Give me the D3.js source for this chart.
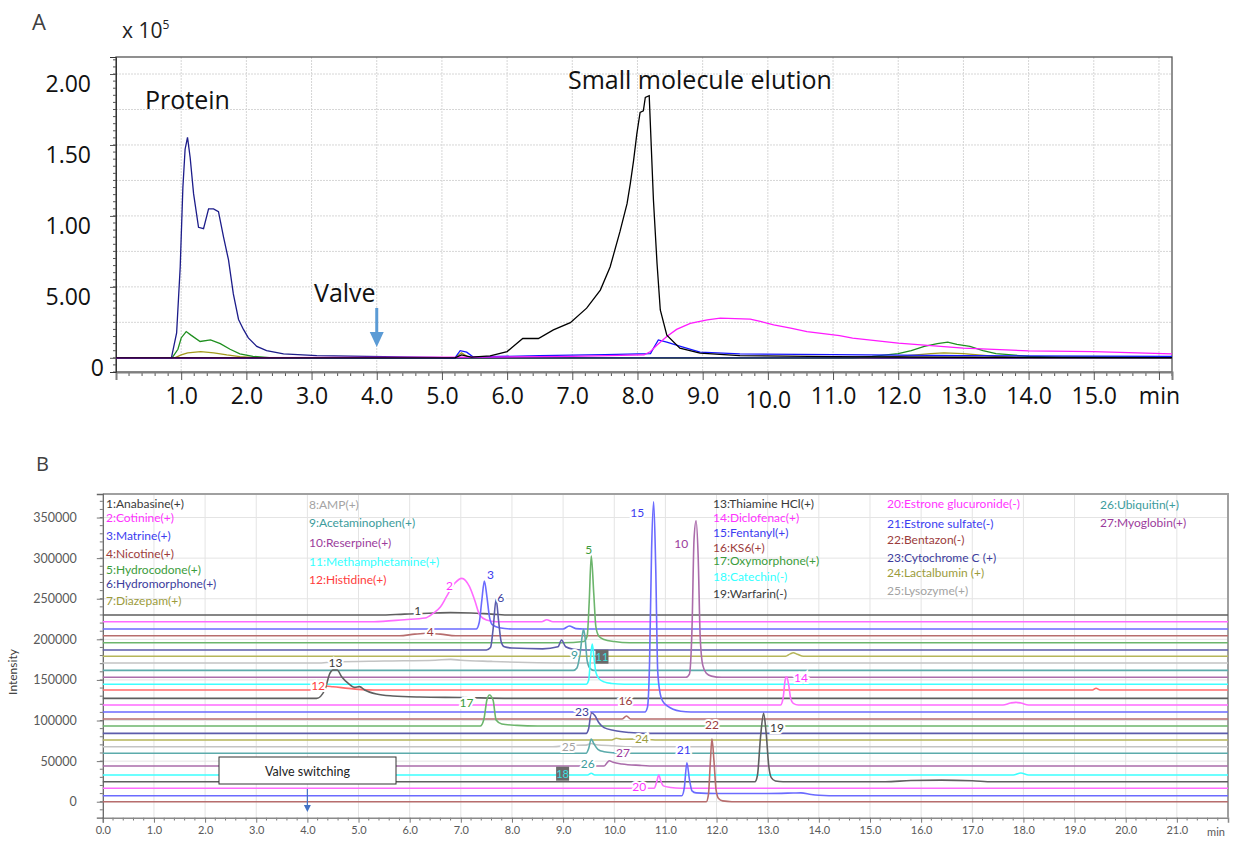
<!DOCTYPE html>
<html>
<head>
<meta charset="utf-8">
<script src="https://cdn.jsdelivr.net/npm/d3@7"></script>
<style>
  body { margin: 0; background: #fff; }
  text { font-family: "Open Sans", sans-serif; }
  .pb text { font-family: Lato, "Open Sans", sans-serif; }
</style>
</head>
<body>
<div id="chart"></div>
<script>
// ---------- Panel A data (time in min, intensity x 10^5) ----------
const aProtein = [[0,0],[0.85,0],[0.93,0.175],[0.985,0.64],[1.026,1.2],[1.06,1.47],[1.097,1.554],[1.138,1.41],[1.19,1.157],[1.266,0.92],[1.343,0.91],[1.42,1.05],[1.496,1.05],[1.572,1.03],[1.65,0.85],[1.726,0.69],[1.8,0.45],[1.88,0.27],[1.955,0.2],[2.03,0.14],[2.16,0.08],[2.31,0.05],[2.57,0.028],[3.08,0.015],[3.85,0.01],[4.87,0.003],[5.2,0],[16.2,0]];
const aGreen = [[0,0],[0.86,0],[0.95,0.06],[1.0,0.14],[1.077,0.185],[1.15,0.16],[1.29,0.115],[1.45,0.126],[1.6,0.1],[1.75,0.06],[1.9,0.028],[2.1,0.01],[2.4,0],[11.3,0],[11.6,0.01],[12.0,0.03],[12.2,0.05],[12.4,0.08],[12.6,0.1],[12.76,0.11],[12.9,0.095],[13.1,0.08],[13.3,0.05],[13.5,0.03],[14.0,0.01],[14.5,0.005],[16.2,0.005]];
const aOlive = [[0,0],[0.9,0],[1.0,0.02],[1.1,0.035],[1.3,0.044],[1.5,0.035],[1.7,0.02],[1.9,0.008],[2.2,0],[5.2,0],[5.3,0.035],[5.42,0],[11.5,0],[12.0,0.01],[12.5,0.03],[12.7,0.035],[13.0,0.03],[13.5,0.01],[14.0,0],[16.2,0]];
const aSmall = [[0,0],[5.2,0],[5.3,0.02],[5.45,0.005],[5.74,0.014],[6.0,0.044],[6.12,0.09],[6.24,0.136],[6.48,0.136],[6.71,0.197],[6.97,0.248],[7.22,0.35],[7.43,0.477],[7.58,0.64],[7.73,0.887],[7.84,1.086],[7.89,1.227],[7.94,1.39],[7.99,1.578],[8.04,1.73],[8.09,1.74],[8.12,1.835],[8.18,1.847],[8.2,1.62],[8.245,1.11],[8.3,0.665],[8.35,0.337],[8.45,0.16],[8.65,0.068],[8.96,0.033],[9.57,0.016],[11,0.008],[13,0.004],[16.2,0.002]];
const aMagenta = [[0,0],[5.5,0.005],[7.0,0.01],[8.1,0.02],[8.2,0.044],[8.3,0.09],[8.45,0.15],[8.6,0.2],[8.81,0.243],[9.07,0.267],[9.27,0.279],[9.5,0.276],[9.73,0.272],[9.9,0.255],[10.09,0.232],[10.35,0.21],[10.6,0.185],[11.1,0.157],[11.3,0.138],[12.0,0.103],[13.0,0.068],[14.0,0.049],[15.0,0.044],[16.2,0.028]];
const aBlue = [[0,0],[5.2,0],[5.28,0.05],[5.38,0.04],[5.48,0.005],[5.7,0.008],[6.5,0.015],[7.5,0.022],[8.2,0.03],[8.26,0.08],[8.32,0.126],[8.45,0.11],[8.66,0.08],[8.96,0.04],[9.57,0.028],[11,0.022],[13,0.015],[16.2,0.01]];
const aFlat = [[0,0],[16.2,0]];
const aTicksY = [0, 0.5, 1, 1.5, 2];
const aTickText = ["0", "5.00", "1.00", "1.50", "2.00"];

// ---------- Panel B data (time in min, intensity above trace offset) ----------
const compounds = ["Anabasine(+)","Cotinine(+)","Matrine(+)","Nicotine(+)","Hydrocodone(+)","Hydromorphone(+)","Diazepam(+)","AMP(+)","Acetaminophen(+)","Reserpine(+)","Methamphetamine(+)","Histidine(+)","Thiamine HCl(+)","Diclofenac(+)","Fentanyl(+)","KS6(+)","Oxymorphone(+)","Catechin(-)","Warfarin(-)","Estrone glucuronide(-)","Estrone sulfate(-)","Bentazon(-)","Cytochrome C (+)","Lactalbumin (+)","Lysozyme(+)","Ubiquitin(+)","Myoglobin(+)"];
const stackOrder = [1,2,3,4,5,6,7,8,9,10,11,12,13,14,15,16,17,23,24,25,26,27,18,19,20,21,22];
const stackOffset = [229900,221700,212700,204400,195800,186800,179100,170800,161800,153200,144600,137600,127300,119100,110500,101800,93200,84200,76000,67700,59600,44000,32900,24600,16500,7400,0];

const t01 = [[0,0],[5.4,0],[5.9,1200],[6.5,2500],[6.8,3000],[7.2,2500],[7.6,1200],[8.0,0],[22,0]];
const t02 = [[0,0],[5.3,0],[5.9,2500],[6.3,4500],[6.46,10300],[6.6,18000],[6.72,30800],[6.88,47300],[7.02,53400],[7.17,43100],[7.27,26700],[7.37,8200],[7.5,2000],[7.7,0],[8.58,0],[8.68,2500],[8.8,0],[22,0]];
const t03 = [[0,0],[7.3,0],[7.36,8000],[7.41,35000],[7.46,59100],[7.51,40000],[7.56,15000],[7.62,5000],[7.75,1500],[8.0,0],[9.0,0],[9.12,3700],[9.25,500],[9.4,0],[22,0]];
const t04 = [[0,0],[5.8,0],[6.1,2000],[6.35,3000],[6.6,2000],[6.9,0],[22,0]];
const t05 = [[0,0],[9.0,0],[9.4,1500],[9.47,8000],[9.51,50000],[9.55,107100],[9.6,60000],[9.64,20000],[9.7,8000],[9.8,4000],[10.0,1500],[10.3,0],[22,0]];
const t06 = [[0,0],[7.5,0],[7.58,3000],[7.63,25000],[7.69,62400],[7.74,35000],[7.79,10000],[7.85,4000],[8.0,2500],[8.6,1500],[8.9,4000],[8.97,12300],[9.05,4000],[9.2,1000],[9.4,0],[22,0]];
const t07 = [[0,0],[13.35,0],[13.44,3000],[13.5,4400],[13.58,2500],[13.7,0],[22,0]];
const t08 = [[0,0],[4.2,0],[4.5,1200],[5.5,2500],[6.5,3500],[6.8,4500],[7.0,3500],[7.6,2000],[8.3,600],[9.0,0],[22,0]];
const t09 = [[0,0],[9.2,0],[9.27,3000],[9.33,20000],[9.38,45000],[9.4,50500],[9.43,40000],[9.47,12000],[9.52,3000],[9.6,0],[22,0]];
const t10 = [[0,0],[11.4,0],[11.47,4000],[11.52,60000],[11.56,170000],[11.6,192900],[11.64,150000],[11.68,50000],[11.73,15000],[11.8,5000],[11.9,1500],[12.1,0],[22,0]];
const t11 = [[0,0],[9.45,0],[9.5,5000],[9.54,35000],[9.57,49600],[9.6,35000],[9.64,15000],[9.7,7000],[9.8,3000],[9.95,1000],[10.2,0],[22,0]];
const t12 = [[0,0],[4.15,0],[4.25,2500],[4.34,4900],[4.5,4000],[4.8,2000],[5.0,800],[5.3,0],[19.35,0],[19.42,2200],[19.5,0],[22,0]];
const t13 = [[0,0],[4.18,0],[4.34,10300],[4.44,30800],[4.5,34900],[4.58,34900],[4.67,26700],[4.8,18500],[4.93,13500],[5.02,14400],[5.12,10300],[5.35,5300],[5.67,2900],[6.2,1600],[7.0,1000],[8.0,0],[22,0]];
const t14 = [[0,0],[13.25,0],[13.3,8000],[13.34,30000],[13.37,34900],[13.41,25000],[13.45,8000],[13.5,2000],[13.6,0],[17.6,0],[17.75,2500],[17.85,3300],[17.95,2500],[18.1,0],[22,0]];
const t15 = [[0,0],[10.6,0],[10.65,6000],[10.69,60000],[10.73,200000],[10.77,259000],[10.81,180000],[10.85,50000],[10.9,22000],[10.95,13000],[11.05,7000],[11.15,3500],[11.3,1000],[11.5,0],[22,0]];
const t16 = [[0,0],[10.15,0],[10.24,3700],[10.32,0],[22,0]];
const t17 = [[0,0],[7.38,0],[7.45,8000],[7.51,32000],[7.56,38200],[7.63,32000],[7.69,7400],[7.8,2500],[8.1,800],[8.5,0],[22,0]];
const t18 = [[0,0],[9.48,0],[9.55,2100],[9.62,0],[17.8,0],[17.95,2400],[18.1,0],[22,0]];
const t19 = [[0,0],[12.75,0],[12.8,8000],[12.86,55000],[12.92,84200],[12.97,60000],[13.02,20000],[13.07,5000],[13.15,1000],[13.3,0],[15.3,0],[15.8,1500],[16.4,2000],[17.0,1200],[17.4,0],[22,0]];
const t20 = [[0,0],[10.78,0],[10.83,8000],[10.87,16400],[10.91,9000],[10.96,3000],[11.1,1000],[11.3,0],[22,0]];
const t21 = [[0,0],[11.32,0],[11.37,10000],[11.42,40600],[11.47,20000],[11.52,6000],[11.6,3500],[12.0,2800],[13.0,2800],[13.5,3300],[13.65,3500],[13.85,1500],[14.0,500],[14.2,0],[22,0]];
const t22 = [[0,0],[11.8,0],[11.84,8000],[11.88,50000],[11.91,77600],[11.95,50000],[11.99,15000],[12.04,4000],[12.12,1000],[12.3,0],[22,0]];
const t23 = [[0,0],[9.45,0],[9.5,6000],[9.55,25400],[9.62,22000],[9.7,13000],[9.8,7000],[10.0,3500],[10.3,1000],[10.6,0],[22,0]];
const t24 = [[0,0],[9.95,0],[10.04,2200],[10.15,1000],[10.5,1200],[10.8,0],[22,0]];
const t25 = [[0,0],[8.8,0],[9.1,1500],[9.45,2000],[9.55,4000],[9.65,2500],[10.0,1200],[10.3,0],[22,0]];
const t26 = [[0,0],[9.45,0],[9.5,6000],[9.55,17600],[9.6,12000],[9.68,5000],[9.8,2000],[10.0,500],[10.2,0],[22,0]];
const t27 = [[0,0],[9.8,0],[9.86,4000],[9.9,6500],[9.98,4500],[10.15,2500],[10.5,800],[10.8,0],[22,0]];
const tracesB = [t01,t02,t03,t04,t05,t06,t07,t08,t09,t10,t11,t12,t13,t14,t15,t16,t17,t18,t19,t20,t21,t22,t23,t24,t25,t26,t27];

// peak number labels: [id, time, intensity]
const peakLabels = [[1,6.16,235200],[2,6.78,266900],[3,7.58,280000],[6,7.78,251700],[4,6.4,209400],[5,9.5,310800],[15,10.45,355900],[10,11.31,318200],[9,9.22,180700],[14,13.65,153200],[16,10.22,124400],[17,7.11,121900],[23,9.37,110500],[22,11.91,95700],[19,13.18,91100],[24,10.54,78400],[25,9.11,67700],[27,10.17,60300],[26,9.48,47300],[21,11.36,64500],[20,10.49,19300],[13,4.55,171200],[12,4.21,143700]];
const boxedLabels = [[11,9.76,178600],[18,8.99,34500]];

// ---------- colours / layout ----------
const lineCol = {1:"#5f5f5f",2:"#ff6bff",3:"#6b6bff",4:"#b76d6d",5:"#6cb56c",6:"#5c5cab",7:"#b5b55a",8:"#c4c4c4",9:"#5cabab",10:"#ab6cab",11:"#3dffff",12:"#ff6b6b",13:"#5f5f5f",14:"#ff6bff",15:"#6b6bff",16:"#b76d6d",17:"#6cb56c",18:"#3dffff",19:"#5f5f5f",20:"#ff6bff",21:"#6b6bff",22:"#b76d6d",23:"#5c5cab",24:"#b5b55a",25:"#c4c4c4",26:"#5cabab",27:"#ab6cab"};
const textCol = {1:"#3a3a3a",2:"#ff33ff",3:"#3c3cf0",4:"#9c3c3c",5:"#3c9c3c",6:"#3c3c9c",7:"#9c9c3c",8:"#a3a3a3",9:"#3c9c9c",10:"#9c3c9c",11:"#33ffff",12:"#ff3c3c",13:"#3a3a3a",14:"#ff33ff",15:"#3c3cf0",16:"#9c3c3c",17:"#3c9c3c",18:"#33ffff",19:"#3a3a3a",20:"#ff33ff",21:"#3c3cf0",22:"#9c3c3c",23:"#3c3c9c",24:"#9c9c3c",25:"#a3a3a3",26:"#3c9c9c",27:"#9c3c9c"};
const legendPos = [[106,503],[106,517],[106,535],[106,553],[106,569],[106,583],[106,600],[309,504],[309,522],[309,542],[309,561],[309,579],[713,503],[713,517],[713,532],[713,547],[713,560],[713,576],[713,593],[887,503],[887,523],[887,539],[887,557],[887,572],[887,590],[1100,504],[1100,522]];

const svg = d3.select("#chart").append("svg")
    .attr("width", 1233)
    .attr("height", 841);

// ======================= Panel A =======================
const xA = d3.scaleLinear().domain([0, 16.2]).range([116, 1172]);
const yA = d3.scaleLinear().domain([-0.1, 2.12]).range([372, 57]);
const gA = svg.append("g");

gA.append("text").attr("x", 32).attr("y", 30).text("A")
    .style("font-size", "22px").style("fill", "#404040");
const exp = gA.append("text").attr("x", 122).attr("y", 38).style("font-size", "21px").style("fill", "#222");
exp.append("tspan").text("x 10");
exp.append("tspan").attr("dy", -9).style("font-size", "12px").text("5");

// grid
gA.append("g").selectAll("line").data(d3.range(1, 17)).join("line")
    .attr("x1", d => xA(d)).attr("x2", d => xA(d))
    .attr("y1", 57).attr("y2", 372)
    .style("stroke", "#d6d6d6").style("stroke-dasharray", "2,1");
gA.append("g").selectAll("line").data(d3.range(1, 9).map(i => i * 0.25)).join("line")
    .attr("x1", 116).attr("x2", 1172)
    .attr("y1", d => yA(d)).attr("y2", d => yA(d))
    .style("stroke", "#d6d6d6").style("stroke-dasharray", "2,1");

// frame
gA.append("rect").attr("x", 116).attr("y", 57).attr("width", 1172 - 116).attr("height", 372 - 57)
    .style("fill", "none").style("stroke", "#555").style("stroke-width", 1.3);

// x axis
const minorA = d3.range(1, 82).filter(i => i % 5 !== 0).map(i => i / 5);
gA.append("g").selectAll("line").data(minorA).join("line")
    .attr("x1", d => xA(d)).attr("x2", d => xA(d))
    .attr("y1", 372).attr("y2", 376).style("stroke", "#555");
const axA = gA.append("g").attr("transform", "translate(0,372)")
    .call(d3.axisBottom(xA).tickValues(d3.range(1, 17)).tickSize(8)
        .tickFormat(d => d === 16 ? "min" : d.toFixed(1)));
axA.select(".domain").style("stroke", "#7f7f7f").style("stroke-width", 2);
axA.selectAll(".tick line").style("stroke", "#555");
axA.selectAll(".tick text").style("font-size", "23px").style("fill", "#111")
    .attr("y", d => d === 10 ? 20 : 16);

// y axis
const minorYA = d3.range(-2, 43).map(i => i * 0.05);
gA.append("g").selectAll("line").data(minorYA).join("line")
    .attr("x1", 113).attr("x2", 116)
    .attr("y1", d => yA(d)).attr("y2", d => yA(d)).style("stroke", "#555");
const ayA = gA.append("g").attr("transform", "translate(116,0)")
    .call(d3.axisLeft(yA).tickValues(aTicksY).tickSize(6)
        .tickFormat((d, i) => aTickText[i]));
ayA.select(".domain").style("stroke", "#333");
ayA.selectAll(".tick line").style("stroke", "#555");
ayA.selectAll(".tick text").style("font-size", "23px").style("fill", "#111")
    .attr("x", d => d === 0 ? -12 : -25).attr("dy", "0.75em");

// traces
const lineA = d3.line().x(d => xA(d[0])).y(d => yA(d[1]));
const seriesA = [
    {data: aFlat, color: "#b03030"},
    {data: aFlat, color: "#4b0082"},
    {data: aOlive, color: "#a39a1e"},
    {data: aGreen, color: "#1f8f1f"},
    {data: aProtein, color: "#1c1c8a"},
    {data: aBlue, color: "#1414ff"},
    {data: aMagenta, color: "#ff1aff"},
    {data: aSmall, color: "#000"}
];
gA.append("g").selectAll("path").data(seriesA).join("path")
    .attr("d", d => lineA(d.data))
    .style("fill", "none").style("stroke", d => d.color).style("stroke-width", 1.3);

// annotations
gA.append("text").attr("x", 145).attr("y", 109).text("Protein").style("font-size", "25px").style("fill", "#111");
gA.append("text").attr("x", 568).attr("y", 89).text("Small molecule elution").style("font-size", "25px").style("fill", "#111");
gA.append("text").attr("x", 314).attr("y", 302).text("Valve").style("font-size", "25px").style("fill", "#111");
gA.append("line").attr("x1", xA(4)).attr("x2", xA(4)).attr("y1", 308).attr("y2", 333)
    .style("stroke", "#5b9bd5").style("stroke-width", 3);
gA.append("path").attr("d", `M${xA(4) - 7},332 L${xA(4) + 7},332 L${xA(4)},347 Z`).style("fill", "#5b9bd5");

// ======================= Panel B =======================
const xB = d3.scaleLinear().domain([0, 22]).range([102.8, 1228]);
const yB = d3.scaleLinear().domain([-19700, 379000]).range([817.7, 494]);
const gB = svg.append("g").attr("class", "pb");

gB.append("text").attr("x", 36).attr("y", 471).text("B")
    .style("font-size", "20px").style("fill", "#404040").style("font-family", "'Open Sans', sans-serif");

// grid
gB.append("g").selectAll("line").data(d3.range(1, 22)).join("line")
    .attr("x1", d => xB(d)).attr("x2", d => xB(d)).attr("y1", 494).attr("y2", 817.7)
    .style("stroke", "#e4e4e4");
gB.append("g").selectAll("line").data(d3.range(0, 8).map(i => i * 50000)).join("line")
    .attr("x1", 102.8).attr("x2", 1228).attr("y1", d => yB(d)).attr("y2", d => yB(d))
    .style("stroke", "#e4e4e4");

// frame top/right
gB.append("path").attr("d", `M102.8,494 H1228 V817.7`)
    .style("fill", "none").style("stroke", "#a0a0a0").style("stroke-width", 2);

// axes
const minorXB = d3.range(1, 110).filter(i => i % 5 !== 0).map(i => i / 5);
gB.append("g").selectAll("line").data(minorXB).join("line")
    .attr("x1", d => xB(d)).attr("x2", d => xB(d)).attr("y1", 817.7).attr("y2", 820.5)
    .style("stroke", "#777");
const axB = gB.append("g").attr("transform", "translate(0,817.7)")
    .call(d3.axisBottom(xB).tickValues(d3.range(0, 22)).tickSize(5).tickPadding(4)
        .tickFormat(d => d.toFixed(1)));
axB.select(".domain").style("stroke", "#8a8a8a").style("stroke-width", 1.5);
axB.selectAll(".tick line").style("stroke", "#777");
axB.selectAll(".tick text").style("font-size", "11px").style("fill", "#595959");
gB.append("text").attr("x", xB(22) - 12).attr("y", 836).attr("text-anchor", "middle")
    .text("min").style("font-size", "11px").style("fill", "#595959");

const minorYB = d3.range(-1, 38).map(i => i * 10000);
gB.append("g").selectAll("line").data(minorYB).join("line")
    .attr("x1", 99.8).attr("x2", 102.8).attr("y1", d => yB(d)).attr("y2", d => yB(d))
    .style("stroke", "#777");
const ayB = gB.append("g").attr("transform", "translate(102.8,0)")
    .call(d3.axisLeft(yB).tickValues(d3.range(0, 8).map(i => i * 50000)).tickSize(6).tickPadding(20)
        .tickFormat(d3.format("d")));
ayB.select(".domain").style("stroke", "#666").style("stroke-width", 1.3);
ayB.selectAll(".tick line").style("stroke", "#777");
ayB.selectAll(".tick text").style("font-size", "12.5px").style("fill", "#595959");
gB.append("text").attr("transform", "translate(17,672) rotate(-90)").attr("text-anchor", "middle")
    .text("Intensity").style("font-size", "12px").style("fill", "#404040");

// traces
const lineB = d3.line().curve(d3.curveMonotoneX);
gB.append("g").selectAll("path").data(stackOrder).join("path")
    .attr("d", (id, i) => lineB(tracesB[id - 1].map(p => [xB(p[0]), yB(stackOffset[i] + p[1])])))
    .style("fill", "none").style("stroke", id => lineCol[id]).style("stroke-width", 1.6);

// peak labels
gB.append("g").selectAll("text").data(peakLabels).join("text")
    .attr("x", d => xB(d[1])).attr("y", d => yB(d[2]))
    .attr("text-anchor", "middle").attr("dominant-baseline", "central")
    .text(d => d[0])
    .attr("paint-order", "stroke").style("stroke", "#fff").style("stroke-width", 4)
    .style("font-size", "12px").style("fill", d => textCol[d[0]]);
const boxes = gB.append("g").selectAll("g").data(boxedLabels).join("g")
    .attr("transform", d => `translate(${xB(d[1])},${yB(d[2])})`);
boxes.append("rect").attr("x", -6.5).attr("y", -7).attr("width", 13).attr("height", 14).style("fill", "#6a6a6a");
boxes.append("text").attr("text-anchor", "middle").attr("dominant-baseline", "central")
    .text(d => d[0]).style("font-size", "11px").style("fill", "#3ee0e0");

// legend
gB.append("g").selectAll("text").data(compounds).join("text")
    .attr("x", (d, i) => legendPos[i][0]).attr("y", (d, i) => legendPos[i][1])
    .attr("dominant-baseline", "central")
    .text((d, i) => `${i + 1}:${d}`)
    .style("font-size", "12px").style("fill", (d, i) => textCol[i + 1]);

// valve switching
gB.append("rect").attr("x", 219).attr("y", 757).attr("width", 177).attr("height", 27)
    .style("fill", "#fff").style("stroke", "#333").style("stroke-width", 1);
gB.append("text").attr("x", 307.5).attr("y", 771).attr("text-anchor", "middle").attr("dominant-baseline", "central")
    .text("Valve switching").style("font-size", "12.5px").style("fill", "#222");
gB.append("line").attr("x1", xB(4)).attr("x2", xB(4)).attr("y1", 789).attr("y2", 806)
    .style("stroke", "#4472c4").style("stroke-width", 1.2);
gB.append("path").attr("d", `M${xB(4) - 3.5},805 L${xB(4) + 3.5},805 L${xB(4)},812 Z`).style("fill", "#4472c4");
</script>
</body>
</html>
